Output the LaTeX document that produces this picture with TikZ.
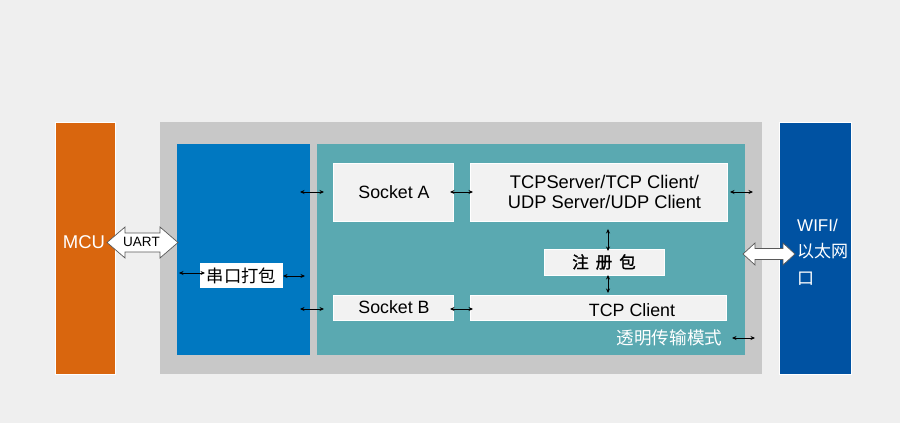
\documentclass[tikz,border=0pt]{standalone}
\usepackage{fontspec}
\setmainfont{Liberation Sans}
\newfontfamily\cjk{Noto Sans CJK SC}
\newfontfamily\cjkb[FakeBold=1.5]{Noto Sans CJK SC}
\usetikzlibrary{arrows.meta}
\definecolor{bgc}{HTML}{EFEFEF}
\definecolor{mcuc}{HTML}{D9660E}
\definecolor{grayc}{HTML}{C8C8C8}
\definecolor{bluec}{HTML}{0078C1}
\definecolor{tealc}{HTML}{5AA9B1}
\definecolor{wific}{HTML}{0052A2}
\definecolor{lightc}{HTML}{F2F2F2}
\begin{document}
\begin{tikzpicture}[x=1pt,y=-1pt,
  block/.style={anchor=north west, inner sep=0pt, outer sep=0pt},
  wbox/.style={block, fill=lightc, draw=white, line width=0.6pt},
  lbl/.style={inner sep=0pt, font=\fontsize{17.8}{20}\selectfont},
  sarrow/.style={{Stealth[length=4.5pt,width=4pt]}-{Stealth[length=4.5pt,width=4pt]}, line width=0.9pt, black},
  bigarrow/.style={draw=gray!70!black, fill=white, line width=0.7pt, line join=miter}
]
\fill[bgc] (0,0) rectangle (900,423);
\useasboundingbox (0,0) rectangle (900,423);

% main blocks
\node[block, fill=mcuc, draw=white, line width=0.6pt, minimum width=60pt, minimum height=252pt] (mcu) at (55,122) {};
\node[block, fill=grayc, minimum width=602pt, minimum height=252pt] (mod) at (160,122) {};
\node[block, fill=bluec, minimum width=133pt, minimum height=211pt] (blue) at (177,144) {};
\node[block, fill=tealc, minimum width=428pt, minimum height=211pt] (teal) at (317,144) {};
\node[block, fill=wific, draw=white, line width=0.6pt, minimum width=72pt, minimum height=252pt] (wifi) at (779,122) {};

% texts in big blocks
\node[lbl, text=white, font=\fontsize{18.5}{20}\selectfont] (mcut) at (84,242) {MCU};
\node[lbl, text=white, anchor=west, align=left, font=\fontsize{17}{26.5}\selectfont] (wifit) at (797,252) {WIFI/\\{\cjk 以太网}\\{\cjk 口}};

% inner boxes
\node[wbox, minimum width=120pt, minimum height=58pt] (sa) at (333,163) {};
\node[lbl] at ([xshift=1pt]sa.center) {Socket A};
\node[wbox, minimum width=257pt, minimum height=58pt] (tcps) at (470,163) {};
\node[lbl, align=center, font=\fontsize{18.3}{19.5}\selectfont] at ([xshift=6pt]tcps.center) {TCPServer/TCP Client/\\UDP Server/UDP Client};
\node[wbox, minimum width=120pt, minimum height=26pt] (reg) at (544,249) {};
\node[lbl, font=\fontsize{16.5}{18}\selectfont\cjkb] at (reg.center) {注\hspace{7pt}册\hspace{7pt}包};
\node[wbox, minimum width=120pt, minimum height=25pt] (sb) at (333,295) {};
\node[lbl] at ([xshift=1pt]sb.center) {Socket B};
\node[wbox, minimum width=256pt, minimum height=25pt] (tcpc) at (470,295) {};
\node[lbl] at (632,310) {TCP Client};
\node[block, fill=white, minimum width=83pt, minimum height=25pt] (chuan) at (200,263) {};
\node[lbl, font=\fontsize{17.3}{20}\selectfont\cjk] at (chuan.center) {串口打包};
\node[lbl, text=white, font=\fontsize{17.6}{20}\selectfont\cjk] (tm) at (669.5,338) {透明传输模式};

% big double arrows
\draw[bigarrow] (107,242.5) -- (125,227) -- (125,233) -- (160,233) -- (160,227) -- (178,242.5)
  -- (160,258) -- (160,252) -- (125,252) -- (125,258) -- cycle;
\node[lbl, font=\fontsize{13.5}{15}\selectfont] (uart) at (141.5,242) {UART};
\draw[bigarrow] (743,254) -- (755,243) -- (755,248.5) -- (783,248.5) -- (783,243) -- (795,254)
  -- (783,265) -- (783,259.5) -- (755,259.5) -- (755,265) -- cycle;

% small arrows
\coordinate (a1l) at (300,192); \coordinate (a1r) at (324,192);
\coordinate (a4l) at (300,309); \coordinate (a4r) at (324,309);
\coordinate (a2l) at (179,273); \coordinate (a2r) at (205,273);
\coordinate (a3r) at (305,276);
\coordinate (a6r) at (753,192);
\coordinate (a10l) at (732,338); \coordinate (a10r) at (755,338);
\draw[sarrow] (a1l) -- (a1r);
\draw[sarrow] (a4l) -- (a4r);
\draw[sarrow] (a2l) -- (a2r);
\draw[sarrow] (chuan.east |- a3r) -- (a3r);
\draw[sarrow] ([xshift=-3pt]sa.east |- a1l) -- ([xshift=3pt]tcps.west |- a1l);
\draw[sarrow] ([xshift=3pt]tcps.east |- a6r) -- (a6r);
\draw[sarrow] ([xshift=-3pt]sb.east |- a4l) -- ([xshift=3pt]tcpc.west |- a4l);
\draw[sarrow] (608,229) -- ([yshift=-2pt]reg.north -| 608,0);
\draw[sarrow] (reg.south -| 608,0) -- ([yshift=2pt]tcpc.north -| 608,0);
\draw[sarrow] (a10l) -- (a10r);
\end{tikzpicture}
\end{document}
